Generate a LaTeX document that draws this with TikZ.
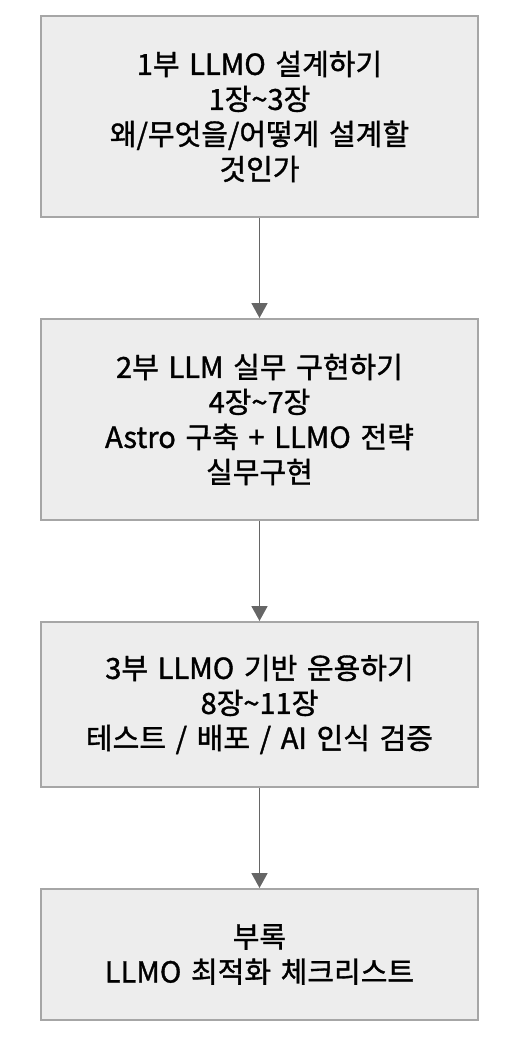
\documentclass[tikz,border=0pt]{standalone}
\usepackage{fontspec}
\setmainfont{Noto Sans CJK KR}[FakeBold=1.2]
\usetikzlibrary{positioning,arrows.meta}

\definecolor{boxfill}{HTML}{EDEDED}
\definecolor{boxline}{HTML}{A6A6A6}
\definecolor{arrline}{HTML}{666666}

\tikzset{
    partbox/.style={draw=boxline,fill=boxfill,line width=2pt,
        minimum width=437pt,text width=430pt,align=center,
        font=\fontsize{29}{35}\selectfont},
    flow/.style={draw=arrline,line width=1.8pt,
        -{Triangle[width=16pt,length=15pt]}}
}

\begin{document}
\begin{tikzpicture}[x=1pt,y=1pt]
    \useasboundingbox (0,0) rectangle (521,-1037);

    \node[partbox,minimum height=201pt] (p1) at (259.5,-116.5)
        {1부 LLMO 설계하기\\1장\textasciitilde 3장\\왜/무엇을/어떻게 설계할\\것인가};
    \node[partbox,minimum height=201pt,below=100pt of p1] (p2)
        {2부 LLM 실무 구현하기\\4장\textasciitilde 7장\\Astro 구축 + LLMO 전략\\실무구현};
    \node[partbox,minimum height=165pt,below=100pt of p2] (p3)
        {3부 LLMO 기반 운용하기\\8장\textasciitilde 11장\\테스트 / 배포 / AI 인식 검증};
    \node[partbox,minimum height=131pt,below=100pt of p3] (ap)
        {부록\\LLMO 최적화 체크리스트};

    \draw[flow] (p1) -- (p2);
    \draw[flow] (p2) -- (p3);
    \draw[flow] (p3) -- (ap);
\end{tikzpicture}
\end{document}
